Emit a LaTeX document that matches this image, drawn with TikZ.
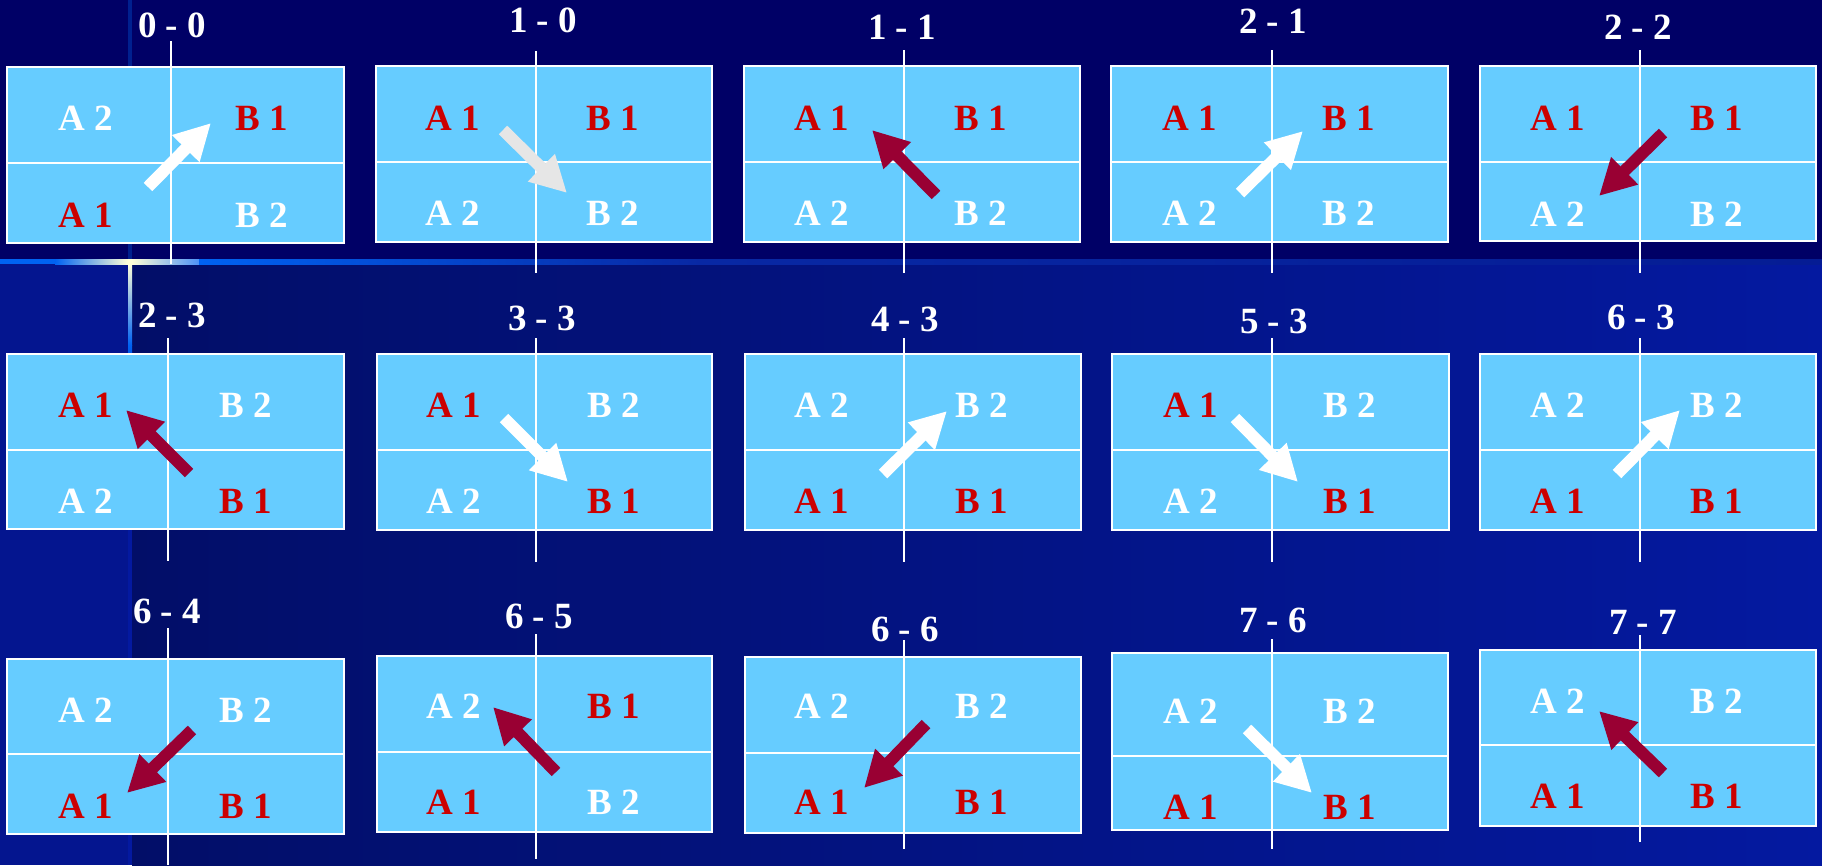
\documentclass[tikz,border=0pt]{standalone}
\usepackage{fontspec}
\setmainfont{Liberation Serif}
\usetikzlibrary{arrows.meta}
\definecolor{navy}{HTML}{000066}
\definecolor{sky}{HTML}{66CCFF}
\definecolor{tred}{HTML}{CC0000}
\definecolor{wine}{HTML}{990033}
\definecolor{lgray}{HTML}{E6E6E6}
\definecolor{lowA}{HTML}{020E68}
\definecolor{lowB}{HTML}{0419A0}
\definecolor{lowL}{HTML}{04158F}
\definecolor{bandB}{HTML}{0062F2}
\definecolor{pale}{HTML}{FFFFD8}
\definecolor{bandD}{HTML}{0828A4}
\definecolor{bandE}{HTML}{051C94}
\definecolor{stripT}{HTML}{00208F}
\tikzset{
  lbl/.style={font=\fontsize{37}{40}\selectfont\bfseries, inner sep=0pt, anchor=base},
  lw/.style={lbl, text=white},
  lr/.style={lbl, text=tred},
  ttl/.style={lbl, text=white},
  court/.style={fill=sky, draw=white, line width=2pt, inner sep=0pt, outer sep=0pt},
  net/.style={draw=white, line width=1.5pt},
  arw/.style={line width=12pt, -{Triangle[length=36pt,width=36pt]}},
}
\newcommand\panel[9]{%
  \node[court, anchor=north west, minimum width={#4-#2}, minimum height={#5-#3}] (#1) at (#2,#3) {};
  \draw[net] (#2,#6) -- (#4,#6);
  \draw[net] (#7,#8) -- (#7,#9);
}
\newcommand\arr[4]{%
  \coordinate (#1s) at (#2);
  \coordinate (#1e) at (#3);
  \draw[arw, #4] (#1s) -- (#1e);
}
\begin{document}
\begin{tikzpicture}[x=1pt,y=-1pt]
\useasboundingbox (0,0) rectangle (1822,865);
% background
\fill[navy] (0,0) rectangle (1822,260);
\fill[stripT] (128,0) rectangle (132,260);
\shade[left color=lowA, right color=lowB] (132,264) rectangle (1822,865);
\fill[lowL] (0,264) rectangle (128,865);
% horizontal band
\fill[bandB] (0,259) rectangle (55,264);
\shade[left color=bandB, right color=pale] (55,259) rectangle (128,264);
\fill[pale] (128,259) rectangle (132,264);
\shade[left color=pale, right color=bandB!70!white] (132,259) rectangle (199,264);
\shade[left color=bandB, right color=bandD] (199,259) rectangle (700,264);
\shade[left color=bandD, right color=bandE] (700,259) rectangle (1822,264);
% vertical stripe below band
\shade[top color=pale, bottom color=bandB] (128,264) rectangle (132,345);
\shade[top color=bandB, bottom color=lowB] (128,345) rectangle (132,420);
\fill[lowB] (128,420) rectangle (132,865);

% panels
\panel{p1}{7}{67}{344}{243}{163}{171}{41}{264}
\panel{p2}{376}{66}{712}{242}{162}{536}{51}{273}
\panel{p3}{744}{66}{1080}{242}{162}{904}{50}{273}
\panel{p4}{1111}{66}{1448}{242}{162}{1272}{50}{273}
\panel{p5}{1480}{66}{1816}{241}{162}{1640}{50}{273}
\panel{p6}{7}{354}{344}{529}{450}{168}{338}{561}
\panel{p7}{377}{354}{712}{530}{450}{536}{338}{562}
\panel{p8}{745}{354}{1081}{530}{450}{904}{338}{562}
\panel{p9}{1112}{354}{1449}{530}{450}{1272}{338}{562}
\panel{p10}{1480}{354}{1816}{530}{450}{1640}{338}{562}
\panel{p11}{7}{659}{344}{834}{754}{168}{628}{865}
\panel{p12}{377}{656}{712}{832}{752}{536}{634}{859}
\panel{p13}{745}{657}{1081}{833}{753}{904}{640}{849}
\panel{p14}{1112}{653}{1448}{830}{756}{1272}{639}{849}
\panel{p15}{1480}{650}{1816}{826}{745}{1640}{635}{842}

% titles
\node[ttl] (t1) at (172,37) {0 - 0};
\node[ttl] (t2) at (543,32) {1 - 0};
\node[ttl] (t3) at (902,39) {1 - 1};
\node[ttl] (t4) at (1273,33) {2 - 1};
\node[ttl] (t5) at (1638,39) {2 - 2};
\node[ttl] (t6) at (172,327) {2 - 3};
\node[ttl] (t7) at (542,330) {3 - 3};
\node[ttl] (t8) at (905,331) {4 - 3};
\node[ttl] (t9) at (1274,333) {5 - 3};
\node[ttl] (t10) at (1641,329) {6 - 3};
\node[ttl] (t11) at (167,623) {6 - 4};
\node[ttl] (t12) at (539,628) {6 - 5};
\node[ttl] (t13) at (905,641) {6 - 6};
\node[ttl] (t14) at (1273,632) {7 - 6};
\node[ttl] (t15) at (1643,634) {7 - 7};

% arrows
\arr{a1}{148,187}{211,123}{white}
\arr{a2}{503,130}{567,193}{lgray}
\arr{a3}{936,195}{872,130}{wine}
\arr{a4}{1240,193}{1303,131}{white}
\arr{a5}{1663,133}{1599,196}{wine}
\arr{a6}{189,473}{126,410}{wine}
\arr{a7}{504,418}{568,482}{white}
\arr{a8}{883,474}{947,411}{white}
\arr{a9}{1235,418}{1298,482}{white}
\arr{a10}{1617,474}{1680,410}{white}
\arr{a11}{192,730}{127,793}{wine}
\arr{a12}{556,772}{493,707}{wine}
\arr{a13}{926,724}{864,788}{wine}
\arr{a14}{1247,729}{1312,793}{white}
\arr{a15}{1663,773}{1599,711}{wine}

% labels row 1
\node[lw] (l1a) at (86,130) {A 2};
\node[lr] (l1b) at (262,130) {B 1};
\node[lr] (l1c) at (86,227) {A 1};
\node[lw] (l1d) at (262,227) {B 2};
\node[lr] (l2a) at (453,130) {A 1};
\node[lr] (l2b) at (613,130) {B 1};
\node[lw] (l2c) at (453,225) {A 2};
\node[lw] (l2d) at (613,225) {B 2};
\node[lr] (l3a) at (822,130) {A 1};
\node[lr] (l3b) at (981,130) {B 1};
\node[lw] (l3c) at (822,225) {A 2};
\node[lw] (l3d) at (981,225) {B 2};
\node[lr] (l4a) at (1190,130) {A 1};
\node[lr] (l4b) at (1349,130) {B 1};
\node[lw] (l4c) at (1190,225) {A 2};
\node[lw] (l4d) at (1349,225) {B 2};
\node[lr] (l5a) at (1558,130) {A 1};
\node[lr] (l5b) at (1717,130) {B 1};
\node[lw] (l5c) at (1558,226) {A 2};
\node[lw] (l5d) at (1717,226) {B 2};
% labels row 2
\node[lr] (l6a) at (86,417) {A 1};
\node[lw] (l6b) at (246,417) {B 2};
\node[lw] (l6c) at (86,513) {A 2};
\node[lr] (l6d) at (246,513) {B 1};
\node[lr] (l7a) at (454,417) {A 1};
\node[lw] (l7b) at (614,417) {B 2};
\node[lw] (l7c) at (454,513) {A 2};
\node[lr] (l7d) at (614,513) {B 1};
\node[lw] (l8a) at (822,417) {A 2};
\node[lw] (l8b) at (982,417) {B 2};
\node[lr] (l8c) at (822,513) {A 1};
\node[lr] (l8d) at (982,513) {B 1};
\node[lr] (l9a) at (1191,417) {A 1};
\node[lw] (l9b) at (1350,417) {B 2};
\node[lw] (l9c) at (1191,513) {A 2};
\node[lr] (l9d) at (1350,513) {B 1};
\node[lw] (l10a) at (1558,417) {A 2};
\node[lw] (l10b) at (1717,417) {B 2};
\node[lr] (l10c) at (1558,513) {A 1};
\node[lr] (l10d) at (1717,513) {B 1};
% labels row 3
\node[lw] (l11a) at (86,722) {A 2};
\node[lw] (l11b) at (246,722) {B 2};
\node[lr] (l11c) at (86,818) {A 1};
\node[lr] (l11d) at (246,818) {B 1};
\node[lw] (l12a) at (454,718) {A 2};
\node[lr] (l12b) at (614,718) {B 1};
\node[lr] (l12c) at (454,814) {A 1};
\node[lw] (l12d) at (614,814) {B 2};
\node[lw] (l13a) at (822,718) {A 2};
\node[lw] (l13b) at (982,718) {B 2};
\node[lr] (l13c) at (822,814) {A 1};
\node[lr] (l13d) at (982,814) {B 1};
\node[lw] (l14a) at (1191,723) {A 2};
\node[lw] (l14b) at (1350,723) {B 2};
\node[lr] (l14c) at (1191,819) {A 1};
\node[lr] (l14d) at (1350,819) {B 1};
\node[lw] (l15a) at (1558,713) {A 2};
\node[lw] (l15b) at (1717,713) {B 2};
\node[lr] (l15c) at (1558,808) {A 1};
\node[lr] (l15d) at (1717,808) {B 1};
\end{tikzpicture}
\end{document}
